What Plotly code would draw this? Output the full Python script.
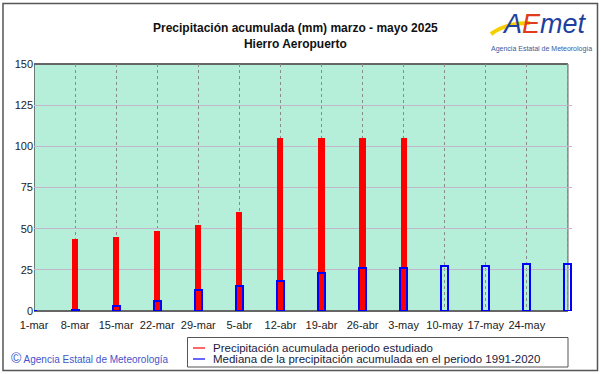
import plotly.graph_objects as go

categories = ["1-mar", "8-mar", "15-mar", "22-mar", "29-mar", "5-abr", "12-abr",
              "19-abr", "26-abr", "3-may", "10-may", "17-may", "24-may", "31-may"]
tick_labels = ["1-mar", "8-mar", "15-mar", "22-mar", "29-mar", "5-abr", "12-abr",
               "19-abr", "26-abr", "3-may", "10-may", "17-may", "24-may", ""]
precip_2025 = [0, 43.5, 45, 48.5, 52, 60, 105, 105, 105, 105, None, None, None, None]
median_1991_2020 = [0, 0.6, 3, 6, 12.6, 15.4, 18.2, 23, 26.3, 26.3, 27.5, 27.5, 28.3, 28.5]

xpos = list(range(len(categories)))

W, H = 601, 374
XMAX = 13.1
L, T, B = 34, 64, 63
# right end of category 13 should sit at x=568px
PW = round((568 - L) * XMAX / 13)
R = W - L - PW
PH = H - T - B


def px(x):
    return (x - L) / PW


def py(y):
    return (H - B - y) / PH


FONT = "Liberation Sans, Arial, sans-serif"

fig = go.Figure()
fig.add_trace(go.Bar(
    x=xpos, y=precip_2025, width=0.15,
    marker=dict(color="#ff0000", line=dict(width=0)),
    name="Precipitación acumulada periodo estudiado", showlegend=False,
))
fig.add_trace(go.Bar(
    x=xpos, y=median_1991_2020, width=0.17,
    marker=dict(color="rgba(0,0,0,0)", line=dict(color="#0000ff", width=2)),
    name="Mediana de la precipitación acumulada en el periodo 1991-2020", showlegend=False,
))

shapes = []
annotations = []

# white strip right of the last category (plot area ends at 31-may)
shapes.append(dict(type="rect", xref="x", yref="paper", x0=13, x1=XMAX, y0=0, y1=1,
                   fillcolor="white", line=dict(width=0), layer="below"))
# plot frame
shapes.append(dict(type="line", xref="x", yref="paper", x0=0, x1=13, y0=1, y1=1,
                   line=dict(color="#666666", width=2), layer="between"))
shapes.append(dict(type="line", xref="x", yref="paper", x0=0, x1=13, y0=0, y1=0,
                   line=dict(color="#666666", width=2), layer="between"))
shapes.append(dict(type="line", xref="x", yref="paper", x0=0, x1=0, y0=0, y1=1,
                   line=dict(color="#555555", width=1.5), layer="between"))
shapes.append(dict(type="line", xref="x", yref="paper", x0=13, x1=13, y0=0, y1=1,
                   line=dict(color="#888888", width=1.5), layer="between"))

# outer frame
shapes.append(dict(type="rect", xref="paper", yref="paper",
                   x0=px(3), x1=px(597.5), y0=py(370.5), y1=py(3.5),
                   line=dict(color="#555555", width=1.5), layer="below"))
# legend box
shapes.append(dict(type="rect", xref="paper", yref="paper",
                   x0=px(187.5), x1=px(568), y0=py(367), y1=py(337.5),
                   line=dict(color="#555555", width=1), fillcolor="white"))
shapes.append(dict(type="line", xref="paper", yref="paper",
                   x0=px(193), x1=px(205), y0=py(348), y1=py(348),
                   line=dict(color="#ff0000", width=1.2)))
shapes.append(dict(type="line", xref="paper", yref="paper",
                   x0=px(193), x1=px(205), y0=py(359), y1=py(359),
                   line=dict(color="#0000ff", width=1.2)))
annotations.append(dict(xref="paper", yref="paper", x=px(211), y=py(347.5),
                        xanchor="left", yanchor="middle", showarrow=False,
                        text="Precipitación acumulada periodo estudiado",
                        font=dict(family=FONT, size=11.5, color="#1a1a40")))
annotations.append(dict(xref="paper", yref="paper", x=px(211), y=py(358.5),
                        xanchor="left", yanchor="middle", showarrow=False,
                        text="Mediana de la precipitación acumulada en el periodo 1991-2020",
                        font=dict(family=FONT, size=11.5, color="#1a1a40")))

# title
annotations.append(dict(xref="paper", yref="paper", x=px(295), y=py(36),
                        xanchor="center", yanchor="middle", showarrow=False,
                        text="<b>Precipitación acumulada (mm) marzo - mayo 2025</b><br><b>Hierro Aeropuerto</b>",
                        font=dict(family=FONT, size=12, color="#111111")))

# copyright
annotations.append(dict(xref="paper", yref="paper", x=px(9), y=py(358),
                        xanchor="left", yanchor="middle", showarrow=False,
                        text="<span style='font-size:14px'>©</span> Agencia Estatal de Meteorología",
                        font=dict(family=FONT, size=10, color="#4455cc")))

# logo
shapes.append(dict(type="path", xref="paper", yref="paper",
                   path=f"M {px(491)} {py(34)} Q {px(508)} {py(22)} {px(530)} {py(23)}",
                   line=dict(color="#f5d000", width=4)))
annotations.append(dict(xref="paper", yref="paper", x=px(544), y=py(24),
                        xanchor="center", yanchor="middle", showarrow=False,
                        text="<i><span style='color:#1f3f9f'>A</span><span style='color:#e03a20'>E</span><span style='color:#1f3f9f'>met</span></i>",
                        font=dict(family=FONT, size=27, color="#1f3f9f")))
annotations.append(dict(xref="paper", yref="paper", x=px(541), y=py(49),
                        xanchor="center", yanchor="middle", showarrow=False,
                        text="Agencia Estatal de Meteorología",
                        font=dict(family=FONT, size=7, color="#3a5a9a")))

fig.update_layout(
    width=W, height=H,
    margin=dict(l=L, r=R, t=T, b=B),
    paper_bgcolor="white",
    plot_bgcolor="#b5efd9",
    barmode="overlay",
    bargap=0,
    showlegend=False,
    shapes=shapes,
    annotations=annotations,
    font=dict(family=FONT, size=11, color="#222222"),
    xaxis=dict(
        range=[0, XMAX], tickmode="array", tickvals=xpos, ticktext=tick_labels,
        showgrid=True, gridcolor="#8a8a8a", griddash="3px,3px", gridwidth=1,
        showline=False, ticks="", zeroline=False, ticklabelstandoff=6,
        tickfont=dict(size=11, color="#222222"),
    ),
    yaxis=dict(
        range=[0, 150], tickmode="linear", tick0=0, dtick=25,
        showgrid=True, gridcolor="#c4b4cc", gridwidth=1,
        showline=False, ticks="", zeroline=False,
        tickfont=dict(size=11, color="#222222"),
    ),
)

fig.write_html("out.html", config={"displayModeBar": False},
               post_script="document.body.style.margin='0';document.body.style.padding='0';")
